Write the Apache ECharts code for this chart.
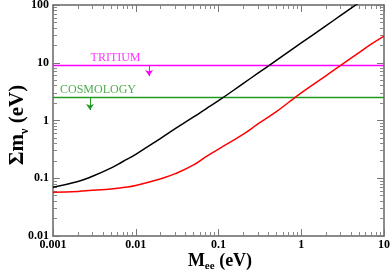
<!DOCTYPE html>
<html><head><meta charset="utf-8">
<script src="https://cdn.jsdelivr.net/npm/echarts@6/dist/echarts.min.js"></script>
<style>html,body{margin:0;padding:0;background:#fff}#c{width:392px;height:273px}</style>
</head><body><div id="c"></div>
<script>
// ---- data ----
const massEE   = [0.001,0.002,0.003,0.005,0.007,0.01,0.02,0.03,0.05,0.07,0.1,0.2,0.3,0.5,0.7,1,2,3,5,7,10];
const sumUpper = [0.070,0.088,0.108,0.15,0.195,0.26,0.49,0.72,1.15,1.58,2.2,4.4,6.6,11,15.4,22,44,66,110,null,null];
const sumLower = [0.057,0.059,0.062,0.065,0.069,0.075,0.098,0.12,0.17,0.235,0.32,0.58,0.87,1.42,2.05,3.0,6.0,9.0,15,21,29];
const xRange = [0.001, 10];
const yRange = [0.01, 100];
const limitNames  = ['TRITIUM', 'COSMOLOGY'];
const limitValues = [9, 2.5];
const limitLabelX = [0.0057, 0.0035];
const arrowX      = [0.0145, 0.0028];
const arrowTo     = [5.9, 1.52];
const limitColors = ['#ff00ff', '#229922'];

const FONT = '"Liberation Serif", "Times New Roman", serif';
const pairs = (xs, ys) => xs.map((x, i) => [x, ys[i]]).filter(p => p[1] != null);

function axis(kind, pos, labels) {
  return {
    type: 'log', logBase: 10, position: pos,
    min: kind === 'x' ? xRange[0] : yRange[0],
    max: kind === 'x' ? xRange[1] : yRange[1],
    axisLine: { show: true, onZero: false, lineStyle: { color: '#666', width: 1.5 } },
    axisTick: { show: true, inside: true, length: 7, lineStyle: { color: '#777', width: 1 } },
    minorTick: { show: true, splitNumber: 9, length: 4, lineStyle: { color: '#888', width: 1 } },
    splitLine: { show: false }, minorSplitLine: { show: false },
    axisLabel: { show: labels, color: '#000', fontFamily: FONT, fontWeight: 'bold', fontSize: 12,
                 margin: kind === 'x' ? 3 : 4 }
  };
}

const chart = echarts.init(document.getElementById('c'), null, { renderer: 'canvas' });
const series = [
  { type: 'line', data: pairs(massEE, sumUpper), xAxisIndex: 0, yAxisIndex: 0, showSymbol: false,
    smooth: true, clip: true, lineStyle: { color: '#000', width: 1.5 }, z: 5 },
  { type: 'line', data: pairs(massEE, sumLower), xAxisIndex: 0, yAxisIndex: 0, showSymbol: false,
    smooth: true, clip: true, lineStyle: { color: '#ff0000', width: 1.5 }, z: 5 }
];
limitNames.forEach((name, i) => {
  series.push({ type: 'line', data: [[xRange[0], limitValues[i]], [xRange[1], limitValues[i]]],
    showSymbol: false, lineStyle: { color: limitColors[i], width: 1.5 }, z: 3 });
  series.push({ type: 'lines', coordinateSystem: 'cartesian2d', xAxisIndex: 0, yAxisIndex: 0,
    data: [{ coords: [[arrowX[i], limitValues[i]], [arrowX[i], arrowTo[i]]] }],
    symbol: ['none', 'arrow'], symbolSize: 6,
    lineStyle: { color: limitColors[i], width: 1, opacity: 1 }, z: 3 });
  series.push({ type: 'scatter', symbolSize: 0, data: [{ name: name, value: [limitLabelX[i], limitValues[i]] }],
    label: { show: true, position: 'top', distance: 2, formatter: '{b}', color: limitColors[i],
             fontFamily: FONT, fontSize: 12 }, z: 4 });
});

chart.setOption({
  animation: false,
  backgroundColor: '#fff',
  grid: { left: 53, right: 8, top: 5, bottom: 37, containLabel: false, outerBoundsMode: 'none' },
  xAxis: [axis('x', 'bottom', true), axis('x', 'top', false)],
  yAxis: [axis('y', 'left', true), axis('y', 'right', false)],
  series: series,
  graphic: [
    { type: 'text', x: 220, y: 261, style: {
        text: '{m|M}{s|ee}{m| (eV)}', align: 'center', verticalAlign: 'middle',
        rich: { m: { fontFamily: FONT, fontWeight: 'bold', fontSize: 18, fill: '#000' },
                s: { fontFamily: FONT, fontWeight: 'bold', fontSize: 11, fill: '#000', padding: [11, 0, 0, 0] } } } },
    { type: 'text', x: 18, y: 125, rotation: Math.PI / 2, style: {
        text: '{m|\u03A3m}{s|\u03BD}{m| (eV)}', align: 'center', verticalAlign: 'middle',
        rich: { m: { fontFamily: FONT, fontWeight: 'bold', fontSize: 21, fill: '#000' },
                s: { fontFamily: FONT, fontWeight: 'bold', fontSize: 12, fill: '#000', padding: [13, 0, 0, 0] } } } }
  ]
});
</script></body></html>
